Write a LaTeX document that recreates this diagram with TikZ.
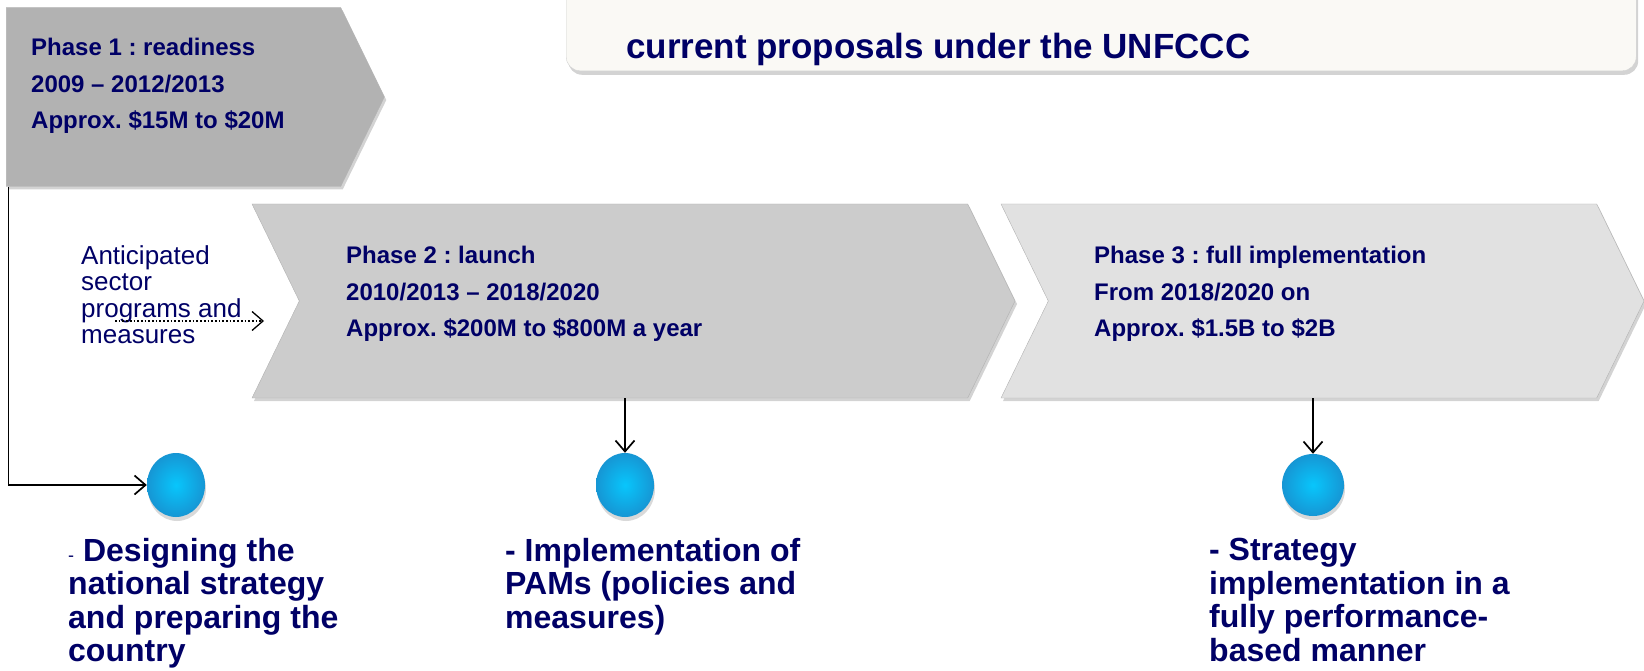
\documentclass[tikz,border=0pt]{standalone}
\usepackage{fontspec}
\setmainfont{Liberation Sans}
\frenchspacing
\usetikzlibrary{arrows.meta, positioning, shapes.symbols, shapes.geometric, shadows}
\definecolor{navy}{RGB}{0,0,102}
\definecolor{phaseA}{RGB}{178,178,178}
\definecolor{phaseB}{RGB}{204,204,204}
\definecolor{phaseC}{RGB}{225,225,225}
\definecolor{dotin}{RGB}{8,198,252}
\definecolor{dotout}{RGB}{22,150,212}
\definecolor{titlefill}{RGB}{250,249,245}
\tikzstyle{phase} = [signal, signal to=east, signal pointer angle=128, draw=gray!60, drop shadow={shadow xshift=2pt, shadow yshift=-3pt, opacity=0.35}]
\tikzstyle{phasetext} = [anchor=north west, align=left, inner sep=0pt, text=navy, font=\fontsize{24}{36.5}\selectfont\bfseries]
\tikzstyle{goal} = [ellipse, minimum width=58, minimum height=64, inner sep=0pt, shading=radial, inner color=dotin, outer color=dotout, drop shadow={shadow xshift=1pt, shadow yshift=-4pt, opacity=0.3}]
\tikzstyle{goaltext} = [anchor=north west, align=left, inner sep=0pt, text=navy, font=\fontsize{32}{33.5}\selectfont\bfseries]
\tikzstyle{note} = [anchor=north west, align=left, inner sep=0pt, text=navy, font=\fontsize{26}{26.5}\selectfont]
\tikzstyle{link} = [-{Straight Barb[length=11pt, width=19pt]}, line width=1.7pt]

\begin{document}
\begin{tikzpicture}[x=1pt, y=-1pt]
    \clip (0,0) rectangle (1644,671);

    % Title box.
    \node (title) [rounded corners=14pt, fill=titlefill, draw=gray!35, minimum width=1070, minimum height=160, anchor=south west, drop shadow={shadow xshift=2pt, shadow yshift=-4pt, opacity=0.35}] at (566,71) {};
    \node [anchor=base west, inner sep=0pt, text=navy, font=\fontsize{35}{40}\selectfont\bfseries] at (626,59) {current proposals under the UNFCCC};

    % Phases.
    \node (phase1) [phase, fill=phaseA, minimum width=378, minimum height=179] at (173.5,97) {};
    \node (phase2) [phase, signal from=west, fill=phaseB, minimum width=763, minimum height=194] at (633.5,301) {};
    \node (phase3) [phase, signal from=west, fill=phaseC, minimum width=643, minimum height=194] at (1322.5,301) {};

    \node (text1) [phasetext] at (31,38) {Phase 1 : readiness\\2009 -- 2012/2013\\Approx. \$15M to \$20M};
    \node (text2) [phasetext] at (346,246) {Phase 2 : launch\\2010/2013 -- 2018/2020\\Approx. \$200M to \$800M a year};
    \node (text3) [phasetext] at (1094,246) {Phase 3 : full implementation\\From 2018/2020 on\\Approx. \$1.5B to \$2B};

    \node (anticip) [note] at (81,245) {Anticipated\\sector\\programs and\\measures};

    % Goals.
    \node (goal1) [goal] at (176,485) {};
    \node (goal2) [goal] at (625,485) {};
    \node (goal3) [goal, minimum width=62, minimum height=62] at (1313,485) {};

    \node (item1) [goaltext] at (68,538) {{\fontsize{18}{20}\mdseries\selectfont -} Designing the\\national strategy\\and preparing the\\country};
    \node (item2) [goaltext] at (505,538) {- Implementation of\\PAMs (policies and\\measures)};
    \node (item3) [goaltext] at (1209,538) {- Strategy\\implementation in a\\fully performance-\\based manner};

    % Arrows.
    \draw [link] ([xshift=2.5]phase1.west |- phase1.south) |- (goal1);
    \foreach \i in {2, 3} {
        \draw [link] (phase\i.south -| goal\i) -- (goal\i);
    }
    \coordinate (dotstart) at (115,321);
    \coordinate (dotend) at (264,321);
    \draw [link, dotted, line width=1.3pt] (dotstart) -- (dotend);
\end{tikzpicture}
\end{document}
